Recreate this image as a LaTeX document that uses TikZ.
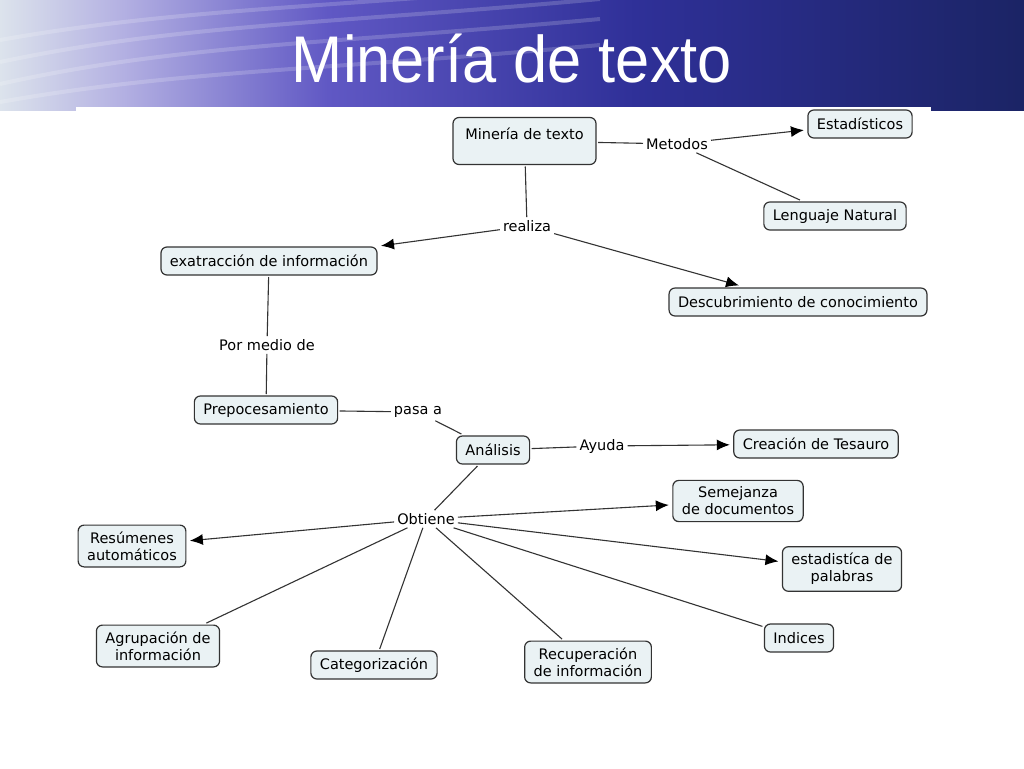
\documentclass[tikz,border=0pt]{standalone}
\usepackage{fontspec}
\setmainfont{DejaVu Sans}
\newfontfamily\titlefont[FakeStretch=0.93]{Liberation Sans}
\usetikzlibrary{arrows.meta}
\definecolor{boxfill}{HTML}{EAF2F4}
\definecolor{boxline}{HTML}{333333}
\definecolor{lineclr}{HTML}{333333}
\definecolor{hdA}{HTML}{DCE3EC}
\definecolor{hdB}{HTML}{B3B0E2}
\definecolor{hdC}{HTML}{6058C4}
\definecolor{hdD}{HTML}{2F3098}
\definecolor{hdE}{HTML}{1B2465}
\pgfdeclarehorizontalshading{headershade}{100bp}{color(0bp)=(hdA); color(25bp)=(hdA); color(31bp)=(hdB); color(41bp)=(hdC); color(56bp)=(hdD); color(75bp)=(hdE); color(100bp)=(hdE)}
\newcommand{\mapfont}{\fontsize{14.5}{17}\selectfont}

\begin{document}
\begin{tikzpicture}[x=1pt,y=-1pt]
  \tikzset{
    cbox/.style={draw=boxline, fill=boxfill, line width=1.2pt, rounded corners=6pt,
      font=\mapfont, align=center, inner xsep=9pt, inner ysep=6.5pt,
      minimum height=28pt, outer sep=2pt},
    lphrase/.style={font=\mapfont, inner sep=3pt},
    cline/.style={draw=lineclr, line width=1.1pt},
    carrow/.style={cline, -{Latex[length=13pt,width=11pt,black]}, shorten >=2pt}
  }
  \useasboundingbox (0,0) rectangle (1024,768);
  \shade[shading=headershade] (0,0) rectangle (1024,111);
  \foreach \a/\b in {40/8, 62/24, 84/44, 102/70}
    \draw[white, opacity=0.18, line width=4pt] (0,\a) .. controls (180,\b) and (330,\b) .. (600,\b-25);
  \fill[white] (0,111) rectangle (1024,768);
  \fill[white] (76,107) rectangle (931,111);
  \node[font=\titlefont\fontsize{66}{66}\selectfont, text=white, anchor=base] (title) at (512,82) {Minería de texto};

  \node[cbox, text height=15pt, text depth=19pt, minimum width=143pt] (mineria) at (524.5,141) {Minería de texto};
  \node[lphrase] (metodos) at (677,144) {Metodos};
  \node[cbox] (estad) at (860,124) {Estadísticos};
  \node[cbox] (lenguaje) at (835,216) {Lenguaje Natural};
  \node[lphrase] (realiza) at (527,226) {realiza};
  \node[cbox] (extraccion) at (269,261) {exatracción de información};
  \node[cbox] (descub) at (798,302) {Descubrimiento de conocimiento};
  \node[lphrase] (pormedio) at (267,345) {Por medio de};
  \node[cbox] (prepro) at (266,410) {Prepocesamiento};
  \node[lphrase] (pasaa) at (418,412) {pasa a};
  \node[cbox] (analisis) at (493,450) {Análisis};
  \node[lphrase] (ayuda) at (602,446) {Ayuda};
  \node[cbox] (tesauro) at (816,444) {Creación de Tesauro};
  \node[lphrase] (obtiene) at (426,519) {Obtiene};
  \node[cbox] (semejanza) at (738,501) {Semejanza\\de documentos};
  \node[cbox] (resumenes) at (132,546) {Resúmenes\\automáticos};
  \node[cbox] (palabras) at (842,569) {estadistíca de\\palabras};
  \node[cbox] (agrupacion) at (158,646) {Agrupación de\\información};
  \node[cbox] (categ) at (374,665) {Categorización};
  \node[cbox] (recup) at (588,662) {Recuperación\\de información};
  \node[cbox] (indices) at (799,638) {Indices};

  \draw[cline] (mineria) -- (metodos);
  \draw[carrow] (metodos) -- (estad);
  \draw[cline] (metodos) -- (lenguaje);
  \draw[cline] (mineria) -- (realiza);
  \draw[carrow] (realiza) -- (extraccion);
  \draw[carrow] (realiza) -- (descub);
  \draw[cline] (extraccion) -- (pormedio);
  \draw[cline] (pormedio) -- (prepro);
  \draw[cline] (prepro) -- (pasaa);
  \draw[cline] (pasaa) -- (analisis);
  \draw[cline] (analisis) -- (ayuda);
  \draw[carrow] (ayuda) -- (tesauro);
  \draw[cline] (analisis) -- (obtiene);
  \draw[carrow] (obtiene) -- (resumenes);
  \draw[carrow] (obtiene) -- (semejanza);
  \draw[carrow] (obtiene) -- (palabras);
  \draw[cline] (obtiene) -- (indices);
  \draw[cline] (obtiene) -- (recup);
  \draw[cline] (obtiene) -- (categ);
  \draw[cline] (obtiene) -- (agrupacion);
\end{tikzpicture}
\end{document}
